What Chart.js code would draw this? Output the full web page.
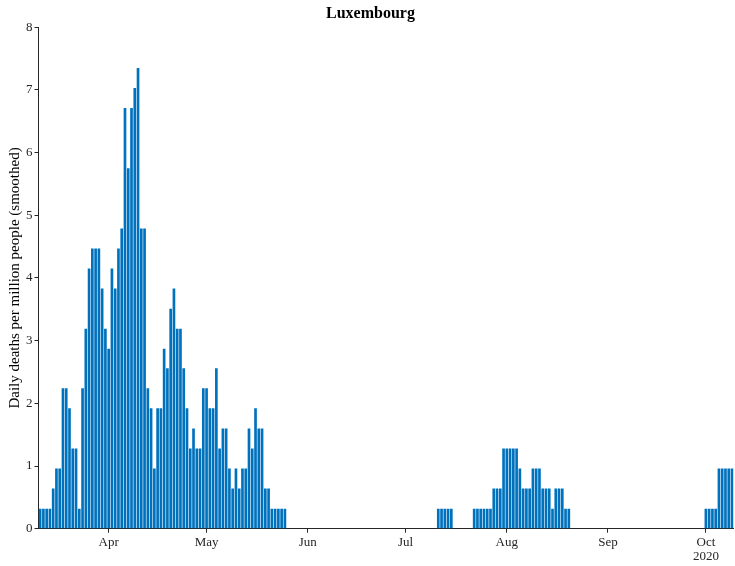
<!DOCTYPE html>
<html><head><meta charset="utf-8">
<script src="https://cdn.jsdelivr.net/npm/chart.js@4.4.0/dist/chart.umd.min.js"></script>
<style>html,body{margin:0;background:#fff}#w{width:735px;height:566px}</style>
</head><body><div id="w"><canvas id="c"></canvas></div>
<script>
const startDate = "2020-03-11";
const wave1 = [0.32,0.32,0.32,0.32,0.64,0.96,0.96,2.24,2.24,1.92,1.28,1.28,0.32,2.24,3.19,4.15,4.47,4.47,4.47,3.83,3.19,2.87,4.15,3.83,4.47,4.79,6.71,5.75,6.71,7.03,7.35,4.79,4.79,2.24,1.92,0.96,1.92,1.92,2.87,2.56,3.51,3.83,3.19,3.19,2.56,1.92,1.28,1.60,1.28,1.28,2.24,2.24,1.92,1.92,2.56,1.28,1.60,1.60,0.96,0.64,0.96,0.64,0.96,0.96,1.60,1.28,1.92,1.60,1.60,0.64,0.64,0.32,0.32,0.32,0.32,0.32];
const gap1 = 46;
const wave2a = [0.32,0.32,0.32,0.32,0.32];
const gap2 = 6;
const wave2b = [0.32,0.32,0.32,0.32,0.32,0.32,0.64,0.64,0.64,1.28,1.28,1.28,1.28,1.28,0.96,0.64,0.64,0.64,0.96,0.96,0.96,0.64,0.64,0.64,0.32,0.64,0.64,0.64,0.32,0.32];
const gap3 = 41;
const wave3 = [0.32,0.32,0.32,0.32,0.96,0.96,0.96,0.96,0.96];

const values = [...wave1, ...Array(gap1).fill(0), ...wave2a, ...Array(gap2).fill(0), ...wave2b, ...Array(gap3).fill(0), ...wave3];
const months = ["Jan","Feb","Mar","Apr","May","Jun","Jul","Aug","Sep","Oct","Nov","Dec"];
const dates = values.map((_, i) => { const d = new Date(startDate + "T00:00:00Z"); d.setUTCDate(d.getUTCDate() + i); return d; });
const labels = dates.map(d => d.toISOString().slice(0,10));
const isMonthStart = i => dates[i].getUTCDate() === 1;

new Chart(document.getElementById('c'), {
  type: 'bar',
  data: { labels, datasets: [{ data: values, backgroundColor: '#0072BD', borderWidth: 0, barPercentage: 0.82, categoryPercentage: 1 }] },
  options: {
    responsive: true, maintainAspectRatio: false, animation: false,
    layout: { padding: { left: 6, right: 0, top: 0, bottom: 0 } },
    plugins: { legend: { display: false }, tooltip: { enabled: false },
      title: { display: true, text: 'Luxembourg', color: '#000', font: { family: 'Liberation Serif', size: 16, weight: 'bold' }, padding: { top: 4, bottom: 4 } } },
    scales: {
      x: {
        grid: { offset: false, drawOnChartArea: false, tickLength: 4,
          color: c => (c.index !== undefined && isMonthStart(c.index)) ? '#262626' : 'rgba(0,0,0,0)' },
        border: { color: '#262626', width: 1 },
        ticks: { autoSkip: false, maxRotation: 0, color: '#262626', font: { family: 'Liberation Serif', size: 13, lineHeight: 1.05 }, padding: 3,
          callback: (v, i) => { if (!isMonthStart(i)) return ''; const m = dates[i].getUTCMonth(); return m === 9 ? [months[m], '2020'] : months[m]; } }
      },
      y: {
        min: 0, max: 8,
        grid: { drawOnChartArea: false, tickLength: 4, color: '#262626' },
        border: { color: '#262626', width: 1 },
        ticks: { stepSize: 1, color: '#262626', font: { family: 'Liberation Serif', size: 13 }, padding: 2 },
        title: { display: true, text: 'Daily deaths per million people (smoothed)', color: '#000', font: { family: 'Liberation Serif', size: 15 }, padding: 0 }
      }
    }
  }
});
</script></body></html>
